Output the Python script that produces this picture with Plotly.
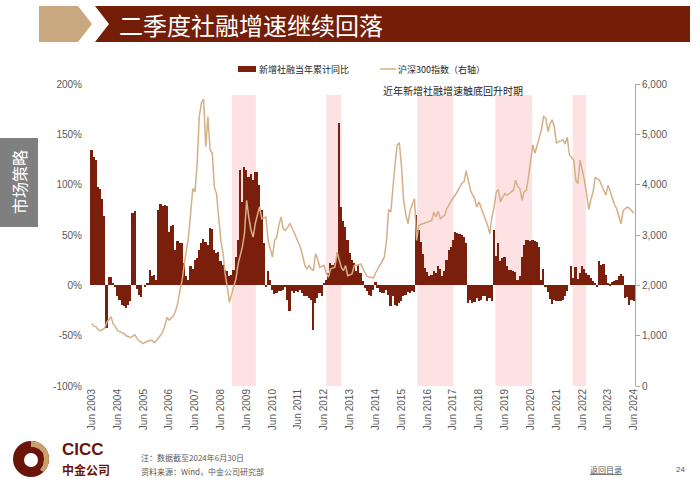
import plotly.graph_objects as go
import pandas as pd

# ---------------- data (monthly, Jun 2003 - Jun 2024) ----------------
tsf_2003 = [134, 127, 125, 98, 96, 86, 69]
tsf_2004 = [-42, 8, 8, 2, -1, -11, -15, -20, -21, -23, -20, -16]
tsf_2005 = [72, 74, -4, -10, -12, 0, -1, 2, 15, 9, 10, 5]
tsf_2006 = [75, 81, 79, 80, 79, 53, 59, 60, 35, 44, 42, 42]
tsf_2007 = [22, 9, 5, 19, 16, 25, 27, 35, 42, 46, 43, 40]
tsf_2008 = [57, 56, 35, 32, 33, 24, 20, 15, 14, 9, 10, 15]
tsf_2009 = [28, 45, 115, 83, 118, 115, 108, 111, 105, 113, 113, 100]
tsf_2010 = [75, 42, -2, 14, 5, -5, -9, -8, -6, -6, -5, -2]
tsf_2011 = [-15, -25, -6, -8, -6, -7, -5, -8, -11, -11, -13, -15]
tsf_2012 = [-44, -18, -13, -8, -11, 2, 5, 12, 22, 20, 22, 32]
tsf_2013 = [161, 78, 64, 58, 45, 32, 25, 22, 14, 20, 12, 4]
tsf_2014 = [-3, -6, -10, -11, -5, 3, -3, -7, -8, -8, -5, -10]
tsf_2015 = [-21, -11, -20, -21, -18, -16, -11, -10, -7, -8, -6, -7]
tsf_2016 = [70, 55, 43, 31, 17, 13, 9, 10, 14, 12, 19, 16]
tsf_2017 = [9, 14, 25, 35, 38, 45, 53, 52, 51, 50, 48, 42]
tsf_2018 = [-18, -15, -18, -17, -13, -16, -15, -11, -11, -16, -13, -16]
tsf_2019 = [55, 29, 42, 24, 27, 28, 19, 15, 15, 14, 13, 5]
tsf_2020 = [9, 28, 40, 45, 45, 44, 45, 44, 43, 38, 5, 16]
tsf_2021 = [-1, -7, -14, -19, -15, -16, -16, -16, -15, -11, -6, 0]
tsf_2022 = [19, 7, 18, 6, 12, 19, 16, 12, 10, 7, 4, 2]
tsf_2023 = [-2, 24, 20, 21, 10, 2, 1, 3, 4, 5, 9, 11]
tsf_2024 = [9, -13, -12, -20, -15, -16]

csi_2003 = [1242, 1190, 1176, 1120, 1097, 1130, 1150]
csi_2004 = [1263, 1330, 1376, 1229, 1180, 1097, 1080, 1063, 1040, 997, 980, 963]
csi_2005 = [990, 1017, 950, 897, 870, 843, 870, 897, 910, 905, 863, 900]
csi_2006 = [963, 1000, 1063, 1200, 1363, 1310, 1360, 1396, 1496, 1650, 1894, 2094]
csi_2007 = [2426, 2700, 2958, 3424, 3923, 3857, 4400, 5355, 5621, 5700, 4756, 5355]
csi_2008 = [4689, 4622, 3956, 3823, 3400, 2891, 2650, 2227, 1961, 1661, 1827, 2000]
csi_2009 = [2127, 2426, 2600, 2759, 3025, 3690, 3357, 3100, 2958, 3224, 3400, 3557]
csi_2010 = [3324, 3340, 3357, 2891, 2700, 2560, 2891, 2958, 3200, 3357, 3124, 3091]
csi_2011 = [3150, 3224, 3158, 3050, 2958, 2850, 2759, 2593, 2400, 2326, 2393, 2330]
csi_2012 = [2293, 2626, 2526, 2360, 2380, 2393, 2250, 2160, 2326, 2340, 2360, 2660]
csi_2013 = [2493, 2350, 2293, 2393, 2193, 2210, 2227, 2393, 2393, 2410, 2426, 2330]
csi_2014 = [2260, 2173, 2165, 2160, 2147, 2250, 2326, 2393, 2500, 2560, 2891, 3504]
csi_2015 = [3457, 4023, 4400, 4789, 4835, 4356, 3690, 3400, 3224, 3490, 3590, 3723]
csi_2016 = [2891, 3191, 3210, 3224, 3240, 3257, 3270, 3291, 3457, 3357, 3470, 3324]
csi_2017 = [3360, 3390, 3523, 3600, 3690, 3740, 3790, 3857, 3950, 4023, 4056, 4276]
csi_2018 = [4090, 3890, 3800, 3723, 3557, 3657, 3540, 3424, 3291, 3191, 3025, 3357]
csi_2019 = [3557, 3857, 3903, 3657, 3750, 3823, 3790, 3820, 3857, 3890, 4090, 3960]
csi_2020 = [3923, 3690, 3857, 3890, 4156, 4500, 4789, 4622, 4770, 4922, 5100, 5355]
csi_2021 = [5321, 5055, 5200, 5288, 5155, 4822, 4856, 4870, 4889, 4809, 4942, 4589]
csi_2022 = [4540, 4489, 4090, 4023, 4489, 4300, 4090, 3823, 3504, 3700, 3857, 4143]
csi_2023 = [4110, 4090, 3990, 3900, 3790, 3990, 3850, 3723, 3600, 3523, 3390, 3224]
csi_2024 = [3490, 3520, 3557, 3523, 3480, 3437]

tick_years = list(range(2003, 2025))
tick_labels = [f"Jun {y}" for y in tick_years]

band_starts = ["2008-11-04", "2012-07-01", "2016-01-10", "2019-01-19", "2022-01-16"]
band_ends = ["2009-10-10", "2013-02-01", "2017-06-04", "2020-06-19", "2022-07-22"]

left_ticks = [-100, -50, 0, 50, 100, 150, 200]
left_labels = ["-100%", "-50%", "0%", "50%", "100%", "150%", "200%"]
right_ticks = [0, 1000, 2000, 3000, 4000, 5000, 6000]
right_labels = ["0", "1,000", "2,000", "3,000", "4,000", "5,000", "6,000"]

tsf = (tsf_2003 + tsf_2004 + tsf_2005 + tsf_2006 + tsf_2007 + tsf_2008 + tsf_2009 +
       tsf_2010 + tsf_2011 + tsf_2012 + tsf_2013 + tsf_2014 + tsf_2015 + tsf_2016 +
       tsf_2017 + tsf_2018 + tsf_2019 + tsf_2020 + tsf_2021 + tsf_2022 + tsf_2023 + tsf_2024)
csi = (csi_2003 + csi_2004 + csi_2005 + csi_2006 + csi_2007 + csi_2008 + csi_2009 +
       csi_2010 + csi_2011 + csi_2012 + csi_2013 + csi_2014 + csi_2015 + csi_2016 +
       csi_2017 + csi_2018 + csi_2019 + csi_2020 + csi_2021 + csi_2022 + csi_2023 + csi_2024)
months = pd.date_range("2003-06-01", periods=len(tsf), freq="MS")

# ---------------- styling ----------------
W, H = 700, 490
ML, MR, MT, MB = 89, 65, 84, 104
PW, PH = W - ML - MR, H - MT - MB
DARK = "#7A1F0B"
TAN = "#D4B087"
PINK = "#FDE1E3"
GREY = "#595959"
FONT = "Liberation Sans, Noto Sans CJK SC, sans-serif"
CJK = "Noto Sans CJK SC, Liberation Sans, sans-serif"


def px(x):
    return (x - ML) / PW


def py(y):
    return (H - MB - y) / PH


fig = go.Figure()
fig.add_trace(go.Bar(x=months, y=tsf, name="新增社融当年累计同比",
                     marker=dict(color=DARK, line=dict(width=0)),
                     width=24 * 86400000, showlegend=False))
fig.add_trace(go.Scatter(x=months, y=csi, name="沪深300指数（右轴）", yaxis="y2",
                         mode="lines", line=dict(color=TAN, width=1.5),
                         showlegend=False))

shapes = []
for s, e in zip(band_starts, band_ends):
    shapes.append(dict(type="rect", xref="x", yref="y", x0=s, x1=e, y0=-100, y1=189,
                       fillcolor=PINK, line=dict(width=0), layer="below"))


def path(points):
    return "M " + " L ".join(f"{px(a):.5f},{py(b):.5f}" for a, b in points) + " Z"


# title banner
shapes.append(dict(type="path", xref="paper", yref="paper",
                   path=path([(39, 6), (78, 6), (92, 24), (78, 42), (39, 42)]),
                   fillcolor="#C9A77F", line=dict(width=0)))
shapes.append(dict(type="path", xref="paper", yref="paper",
                   path=path([(95, 6), (690, 6), (690, 42), (95, 42), (109, 24)]),
                   fillcolor="#741E08", line=dict(width=0)))
# side tab
shapes.append(dict(type="rect", xref="paper", yref="paper",
                   x0=px(0), x1=px(38), y0=py(227), y1=py(138),
                   fillcolor="#7F7F7F", line=dict(width=0)))
# legend swatches
shapes.append(dict(type="rect", xref="paper", yref="paper",
                   x0=px(238), x1=px(256), y0=py(72), y1=py(66),
                   fillcolor=DARK, line=dict(width=0)))
shapes.append(dict(type="line", xref="paper", yref="paper",
                   x0=px(380), x1=px(396), y0=py(69), y1=py(69),
                   line=dict(color=TAN, width=1.5)))
# logo
shapes.append(dict(type="circle", xref="paper", yref="paper",
                   x0=px(13), x1=px(49), y0=py(477), y1=py(441),
                   fillcolor="#6B1409", line=dict(width=0)))
shapes.append(dict(type="path", xref="paper", yref="paper",
                   path=path([(31, 441), (38, 442), (44, 446), (48, 452), (49, 459),
                              (48, 466), (44, 472), (40, 470), (43, 465), (44, 459),
                              (43, 453), (39, 449), (34, 447), (31, 447)]),
                   fillcolor="#C9A06A", line=dict(width=0)))
shapes.append(dict(type="circle", xref="paper", yref="paper",
                   x0=px(24), x1=px(38), y0=py(467), y1=py(453),
                   fillcolor="white", line=dict(width=0)))

annotations = [
    dict(text="二季度社融增速继续回落", x=px(117), y=py(24), xref="paper", yref="paper",
         xanchor="left", yanchor="middle", showarrow=False,
         font=dict(family=CJK, size=24, color="white")),
    dict(text="市场策略", x=px(19), y=py(182), xref="paper", yref="paper",
         xanchor="center", yanchor="middle", showarrow=False, textangle=-90,
         font=dict(family=CJK, size=16, color="white")),
    dict(text="新增社融当年累计同比", x=px(257), y=py(69), xref="paper", yref="paper",
         xanchor="left", yanchor="middle", showarrow=False,
         font=dict(family=CJK, size=9, color="#262626")),
    dict(text="沪深300指数（右轴）", x=px(396), y=py(69), xref="paper", yref="paper",
         xanchor="left", yanchor="middle", showarrow=False,
         font=dict(family=CJK, size=9, color="#262626")),
    dict(text="近年新增社融增速触底回升时期", x=px(453), y=py(90), xref="paper", yref="paper",
         xanchor="center", yanchor="middle", showarrow=False,
         font=dict(family=CJK, size=10, color="#262626")),
    dict(text="<b>CICC</b>", x=px(60), y=py(449), xref="paper", yref="paper",
         xanchor="left", yanchor="middle", showarrow=False,
         font=dict(family=FONT, size=17, color="#6B1409")),
    dict(text="<b>中金公司</b>", x=px(60), y=py(469), xref="paper", yref="paper",
         xanchor="left", yanchor="middle", showarrow=False,
         font=dict(family=CJK, size=12, color="#6B1409")),
    dict(text="注：数据截至2024年6月30日", x=px(139), y=py(458), xref="paper", yref="paper",
         xanchor="left", yanchor="middle", showarrow=False,
         font=dict(family=CJK, size=8, color=GREY)),
    dict(text="资料来源：Wind，中金公司研究部", x=px(139), y=py(471), xref="paper", yref="paper",
         xanchor="left", yanchor="middle", showarrow=False,
         font=dict(family=CJK, size=8, color=GREY)),
    dict(text="<u>返回目录</u>", x=px(606), y=py(469), xref="paper", yref="paper",
         xanchor="center", yanchor="middle", showarrow=False,
         font=dict(family=CJK, size=8, color=GREY)),
    dict(text="24", x=px(680), y=py(469), xref="paper", yref="paper",
         xanchor="center", yanchor="middle", showarrow=False,
         font=dict(family=FONT, size=8, color=GREY)),
]

fig.update_layout(
    width=W, height=H,
    margin=dict(l=ML, r=MR, t=MT, b=MB, pad=0),
    paper_bgcolor="white", plot_bgcolor="white",
    font=dict(family=FONT, size=10, color=GREY),
    shapes=shapes, annotations=annotations,
    bargap=0,
    xaxis=dict(type="date", range=["2003-04-24", "2024-06-16"],
               tickvals=[f"{y}-06-01" for y in tick_years], ticktext=tick_labels,
               tickangle=-90, tickfont=dict(size=10, color=GREY),
               showgrid=False, zeroline=False, showline=False, ticks=""),
    yaxis=dict(range=[-100, 200], tickvals=left_ticks, ticktext=left_labels,
               tickfont=dict(size=10, color=GREY), showgrid=False, zeroline=False,
               showline=False, ticks="", ticklabelstandoff=6),
    yaxis2=dict(range=[0, 6000], tickvals=right_ticks, ticktext=right_labels,
                overlaying="y", side="right", showgrid=False, zeroline=False,
                showline=True, linecolor="#A6A6A6", linewidth=1,
                ticks="outside", ticklen=4, tickcolor="#A6A6A6",
                tickfont=dict(size=10, color=GREY)),
)

fig.write_html("out.html")
